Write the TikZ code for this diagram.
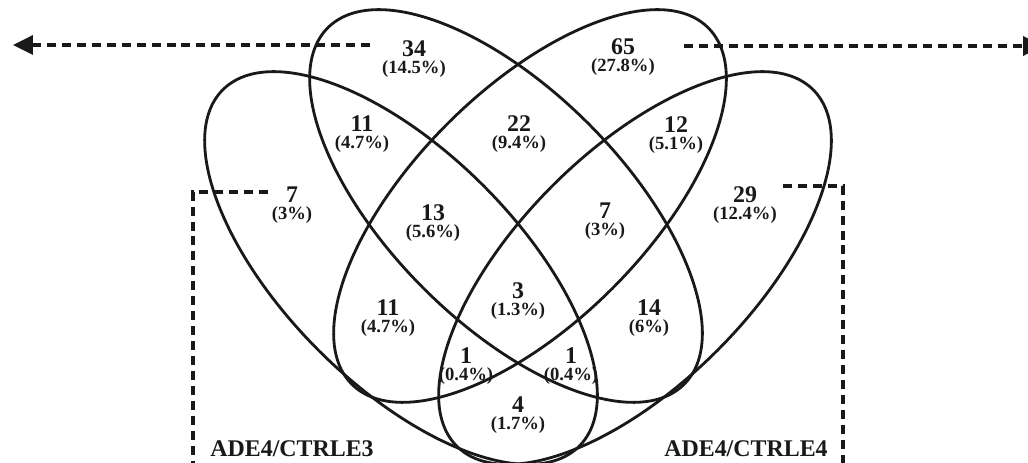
\documentclass[tikz,border=0pt]{standalone}
\usepackage{fontspec}
\setmainfont{Liberation Serif}
\usetikzlibrary{arrows.meta,positioning}
\definecolor{venndark}{RGB}{25,25,25}

\begin{document}
\begin{tikzpicture}[
  venn/.style={line width=1.6pt, draw=venndark},
  guide/.style={line width=2pt, draw=venndark, dash pattern=on 5.1pt off 3.4pt},
  count/.style={inner sep=0pt, font=\fontsize{13.6}{15}\selectfont\bfseries, text=venndark},
  share/.style={inner sep=0pt, font=\fontsize{10.6}{12}\selectfont\bfseries, text=venndark},
  setlabel/.style={inner sep=0pt, font=\fontsize{13.6}{15}\selectfont\bfseries, text=venndark}
]
  \useasboundingbox (0,0) rectangle (20.56,9.24);

  % Four ellipses: outer left, inner left, inner right, outer right
  \draw[venn, rotate around={-45:(8.02,3.88)}] (8.02,3.88) ellipse (5.04 and 2.33);
  \draw[venn, rotate around={-45:(10.12,5.12)}] (10.12,5.12) ellipse (5.04 and 2.33);
  \draw[venn, rotate around={45:(10.60,5.12)}] (10.60,5.12) ellipse (5.04 and 2.33);
  \draw[venn, rotate around={45:(12.70,3.88)}] (12.70,3.88) ellipse (5.04 and 2.33);

  % Region counts and shares
  \foreach \id/\x/\y/\cnt/\pct in {
      b/8.28/8.27/34/14.5, c/12.46/8.30/65/27.8,
      ab/7.24/6.76/11/4.7, bc/10.38/6.76/22/9.4, cd/13.52/6.74/12/5.1,
      a/5.84/5.34/7/3, abc/8.66/4.98/13/5.6, bcd/12.10/5.02/7/3, d/14.90/5.34/29/12.4,
      ac/7.76/3.08/11/4.7, abcd/10.36/3.42/3/1.3, bd/12.98/3.08/14/6,
      acd/9.32/2.12/1/0.4, abd/11.42/2.12/1/0.4, ad/10.36/1.14/4/1.7} {
    \node[count] (c\id) at (\x,\y) {\cnt};
    \node[share, below=1.8pt of c\id] (p\id) {(\pct\%)};
  }

  % Dashed pointers
  \coordinate (tipL) at (0.26,8.34);
  \coordinate (tipR) at (20.86,8.32);
  \draw[guide, -{Triangle[length=0.4cm,width=0.38cm]}] ([xshift=-0.64cm]cb.west |- tipL) -- (tipL);
  \draw[guide, -{Triangle[length=0.4cm,width=0.38cm]}] ([xshift=0.98cm]cc.east |- tipR) -- (tipR);

  % Dashed brackets
  \coordinate (brL) at (3.86,-0.16);
  \coordinate (brR) at (16.86,-0.16);
  \draw[guide] (5.36,5.40) -- (3.86,5.40) -- (brL);
  \draw[guide] (15.66,5.52) -- (16.86,5.52) -- (brR);

  % Comparison labels
  \node[setlabel, anchor=base west] (lblL) at (4.20,0.12) {ADE4/CTRLE3};
  \node[setlabel, anchor=base east] (lblR) at (16.56,0.12) {ADE4/CTRLE4};
\end{tikzpicture}
\end{document}
